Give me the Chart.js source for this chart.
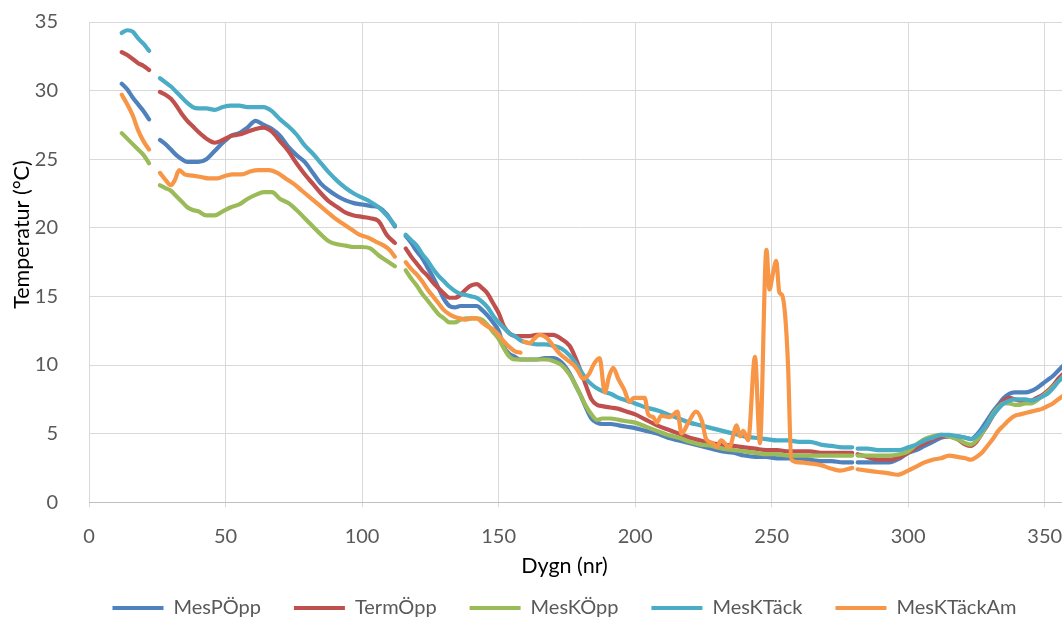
<!DOCTYPE html>
<html><head><meta charset="utf-8">
<script src="https://cdn.jsdelivr.net/npm/chart.js@4.4.1/dist/chart.umd.min.js"></script>
<style>
html,body{margin:0;padding:0;overflow:hidden;background:#fff;width:1062px;height:624px}
#wrap{position:relative;width:1124px;height:628px}
</style></head>
<body><div id="wrap"><canvas id="c" width="1124" height="628"></canvas></div>
<script>
// Day numbers shared by the first four series (null rows = gaps)
const days = [12,14,16,18,20,22, 24,
 26,28,30,32,34,36,38,40,43,46,49,52,55,58,61,64,67,70,73,76,79,82,85,88,91,94,97,100,103,106,109,112, 114,
 116,118,120,122,124,126,128,130,132,134,136,138,140,142,144,146,148,150,152,154,156,158,161,164,167,170,173,176,178,180,
 182,184,186,188,191,194,197,200,204,208,212,216,220,224,228,232,236,240,244,248,252,256,260,264,268,272,276,279.5, 280.5,
 281.5,285,289,293,297,300,303,306,309,312,315,318,321,323,325,327,329,331,333,335,337,339,341,343,345,347,349,351,353,355,357,359];

const mesPOpp = [30.5,30.1,29.5,29.0,28.5,27.9, null,
 26.4,26.1,25.7,25.3,25.0,24.8,24.8,24.8,25.0,25.6,26.2,26.7,26.9,27.3,27.8,27.5,27.2,26.7,25.9,25.3,24.8,24.0,23.2,22.7,22.3,22.0,21.8,21.7,21.6,21.5,21.0,20.1, null,
 19.4,18.9,18.3,17.8,17.1,16.4,15.6,14.8,14.3,14.2,14.3,14.3,14.3,14.3,14.0,13.6,13.1,12.5,11.3,10.8,10.6,10.4,10.4,10.4,10.5,10.5,10.2,9.4,8.6,7.8,
 6.9,6.1,5.8,5.7,5.7,5.6,5.5,5.4,5.2,5.0,4.7,4.5,4.3,4.1,3.9,3.7,3.6,3.4,3.3,3.3,3.2,3.2,3.2,3.1,3.0,3.0,2.9,2.9, null,
 2.9,2.9,2.9,2.9,3.2,3.6,3.8,4.1,4.4,4.7,4.8,4.8,4.7,4.6,4.9,5.4,6.0,6.6,7.1,7.6,7.9,8.0,8.0,8.0,8.1,8.3,8.6,8.9,9.2,9.6,10.0,10.4];

const termOpp = [32.8,32.6,32.3,32.0,31.8,31.5, null,
 29.9,29.7,29.4,28.9,28.3,27.8,27.4,27.0,26.5,26.2,26.4,26.7,26.8,27.0,27.2,27.3,27.0,26.3,25.6,24.7,23.9,23.2,22.5,21.9,21.5,21.1,20.9,20.8,20.7,20.5,19.5,18.9, null,
 18.5,17.9,17.4,16.9,16.5,16.0,15.6,15.2,14.9,14.9,15.1,15.5,15.8,15.9,15.6,15.2,14.5,13.8,12.8,12.3,12.1,12.1,12.1,12.2,12.2,12.2,11.9,11.4,10.6,9.6,
 8.5,7.5,7.1,7.0,6.9,6.8,6.6,6.4,6.0,5.6,5.3,5.0,4.7,4.5,4.3,4.2,4.1,4.0,3.9,3.8,3.8,3.7,3.7,3.7,3.6,3.6,3.6,3.6, null,
 3.5,3.3,3.1,3.1,3.3,3.6,4.0,4.3,4.6,4.8,4.8,4.6,4.2,4.1,4.4,5.0,5.6,6.3,6.9,7.4,7.6,7.5,7.4,7.4,7.4,7.6,7.8,8.1,8.5,9.0,9.4,9.8];

const mesKOpp = [26.9,26.5,26.1,25.7,25.3,24.7, null,
 23.1,22.9,22.7,22.3,21.9,21.5,21.3,21.2,20.9,20.9,21.2,21.5,21.7,22.1,22.4,22.6,22.6,22.1,21.8,21.3,20.7,20.1,19.5,19.0,18.8,18.7,18.6,18.6,18.5,18.0,17.6,17.2, null,
 16.9,16.3,15.8,15.2,14.7,14.2,13.7,13.4,13.1,13.1,13.3,13.4,13.4,13.4,13.3,12.9,12.4,11.9,11.2,10.6,10.4,10.4,10.4,10.4,10.4,10.3,10.0,9.3,8.6,7.8,
 7.0,6.4,6.0,6.1,6.1,6.0,5.9,5.8,5.5,5.2,4.9,4.7,4.4,4.2,4.1,3.9,3.8,3.7,3.6,3.5,3.5,3.4,3.4,3.4,3.4,3.4,3.4,3.4, null,
 3.4,3.4,3.4,3.4,3.5,3.7,4.2,4.6,4.8,4.9,4.8,4.6,4.3,4.2,4.5,5.0,5.7,6.4,6.9,7.2,7.2,7.1,7.1,7.2,7.2,7.4,7.7,8.0,8.4,8.8,9.2,9.6];

const mesKTack = [34.2,34.4,34.3,33.8,33.4,32.9, null,
 30.9,30.6,30.3,29.9,29.5,29.1,28.8,28.7,28.7,28.6,28.8,28.9,28.9,28.8,28.8,28.8,28.5,27.9,27.4,26.8,26.0,25.4,24.7,24.0,23.4,22.9,22.5,22.2,21.9,21.5,20.9,20.2, null,
 19.5,19.1,18.7,18.1,17.6,17.0,16.5,16.1,15.7,15.4,15.2,15.1,15.0,14.9,14.6,14.2,13.6,13.1,12.7,12.3,12.1,11.8,11.6,11.5,11.5,11.4,11.2,10.7,10.2,9.6,
 9.0,8.6,8.3,8.1,7.9,7.6,7.4,7.2,6.9,6.7,6.4,6.1,5.8,5.6,5.4,5.2,5.0,4.8,4.7,4.6,4.5,4.5,4.4,4.4,4.2,4.1,4.0,4.0, null,
 3.9,3.9,3.8,3.8,3.8,4.0,4.2,4.5,4.7,4.9,4.9,4.8,4.7,4.6,4.8,5.2,5.7,6.3,6.8,7.2,7.4,7.5,7.5,7.5,7.4,7.5,7.7,7.9,8.3,8.8,9.2,9.6];

// MesKTäckAm has its own day list (denser where it zig-zags)
const daysAm = [12,14,16,18,20,22, 24,
 26,28,30,31.5,33,35,38,41,44,47,50,53,56,59,62,66,69,72,75,78,81,84,87,90,93,96,99,102,105,108,110,112, 114,
 116,118,120,122,124,126,128,130,132,134,136,138,140,142,144,146,148,150,152,154,156,158, 158.7,
 159.3,161.5,163,165,167.5,170,172.5,175,177.5,179,181,183,185,187,188.9,190.5,192,193.8,196,198,199.5,203.5,204.8,206.6,208,209.5,212.7,215.5,217,219.5,222.3,224.5,226,228.5,229.8,231.5,234.5,237.2,238.4,239.6,241.4,243.9,245.7,248.1,249.2,250.4,251.7,252.8,253.8,255,256,257.2,260,265,268,271,275,279.5, 280.5,
 281.5,285,289,293,296,300,303,306,309,312,315,318,321,323,325,327,329,331,333,335,337,339,341,343,345,347,349,351,353,355,357,359];

const mesKTackAm = [29.7,29.0,28.2,27.1,26.3,25.7, null,
 24.0,23.5,23.1,23.5,24.2,23.9,23.8,23.7,23.6,23.6,23.8,23.9,23.9,24.1,24.2,24.2,24.0,23.6,23.2,22.7,22.2,21.7,21.2,20.7,20.3,19.9,19.5,19.3,19.0,18.7,18.4,17.9, null,
 17.5,17.0,16.6,16.1,15.5,15.0,14.5,14.0,13.7,13.5,13.4,13.3,13.4,13.4,13.1,12.8,12.6,12.2,11.7,11.3,11.0,10.9, null,
 11.7,11.6,11.9,12.2,12.0,11.4,10.8,10.4,10.0,9.6,9.0,9.3,10.1,10.5,8.0,9.2,9.8,9.0,8.2,7.3,7.6,7.6,6.4,6.2,5.8,6.3,6.2,6.6,5.0,5.8,6.6,5.9,4.6,4.3,4.0,4.5,4.0,5.6,4.8,5.2,4.5,10.6,4.3,18.4,15.5,16.6,17.6,15.3,15.1,13.5,10.0,3.1,2.9,2.8,2.7,2.5,2.3,2.5, null,
 2.4,2.3,2.2,2.1,2.0,2.3,2.6,2.9,3.1,3.2,3.4,3.3,3.2,3.1,3.3,3.6,4.1,4.6,5.2,5.6,6.0,6.3,6.4,6.5,6.6,6.7,6.8,7.0,7.2,7.5,7.8,8.1];

const seriesNames = ['MesPÖpp','TermÖpp','MesKÖpp','MesKTäck','MesKTäckAm'];
const seriesColors = ['#4F81BD','#C0504D','#9BBB59','#4BACC6','#F79646'];

const xTicks = {min:0, max:360, step:50};
const yTicks = {min:0, max:35, step:5};
const xTitle = 'Dygn (nr)';
const yTitle = 'Temperatur (°C)';

const FONT = 'Lato, "Open Sans", sans-serif';
const pts = (xs, ys) => xs.map((x, i) => ({x: x, y: ys[i]}));
const seriesData = [pts(days, mesPOpp), pts(days, termOpp), pts(days, mesKOpp), pts(days, mesKTack), pts(daysAm, mesKTackAm)];

const datasets = seriesData.map((d, i) => ({
  label: seriesNames[i], data: d,
  borderColor: seriesColors[i], backgroundColor: seriesColors[i],
  order: 5 - i, spanGaps: false
}));

new Chart(document.getElementById('c'), {
  type: 'line',
  data: {datasets: datasets},
  options: {
    responsive: false, animation: false, devicePixelRatio: 1,
    layout: {padding: {left: 5, right: 0, top: 22, bottom: 0}},
    elements: {
      point: {radius: 0, hoverRadius: 0},
      line: {borderWidth: 4.2, borderCapStyle: 'round', borderJoinStyle: 'round', cubicInterpolationMode: 'monotone'}
    },
    scales: {
      x: {
        type: 'linear', min: xTicks.min, max: xTicks.max,
        afterFit: s => { s.height = 51; },
        ticks: {stepSize: xTicks.step, includeBounds: false, padding: 17, color: '#595959', font: {family: FONT, size: 20}, maxRotation: 0},
        grid: {color: '#d9d9d9', tickLength: 5, tickColor: '#d9d9d9'},
        border: {color: '#bfbfbf', width: 1}
      },
      y: {
        min: yTicks.min, max: yTicks.max,
        afterFit: s => { s.width = 84; },
        ticks: {stepSize: yTicks.step, padding: 0, color: '#595959', font: {family: FONT, size: 20}},
        grid: {color: '#d9d9d9', drawTicks: true, tickLength: 31, tickColor: 'rgba(0,0,0,0)'},
        border: {display: false},
        title: {display: true, text: '          ' + yTitle, color: '#000', font: {family: FONT, size: 21.5}, padding: {top: 4, bottom: 0}}
      },
      yr: {
        position: 'right', display: true,
        afterFit: s => { s.width = 52; },
        ticks: {display: false}, grid: {display: false}, border: {display: false}
      }
    },
    plugins: {
      legend: {
        position: 'bottom',
        labels: {
          color: '#595959', font: {family: FONT, size: 20}, boxWidth: 51, boxHeight: 4, padding: 33,
          generateLabels: chart => chart.data.datasets.map((d, i) => ({
            text: d.label, fillStyle: d.borderColor, strokeStyle: d.borderColor, lineWidth: 0,
            hidden: false, datasetIndex: i, fontColor: '#595959'
          }))
        }
      },
      title: {
        display: true, text: xTitle, position: 'bottom', weight: 500, fullSize: true,
        color: '#000', font: {family: FONT, size: 21.5, weight: 'normal'}, padding: {top: 0, bottom: -14}
      },
      tooltip: {enabled: false}
    }
  }
});
</script>
</body></html>
